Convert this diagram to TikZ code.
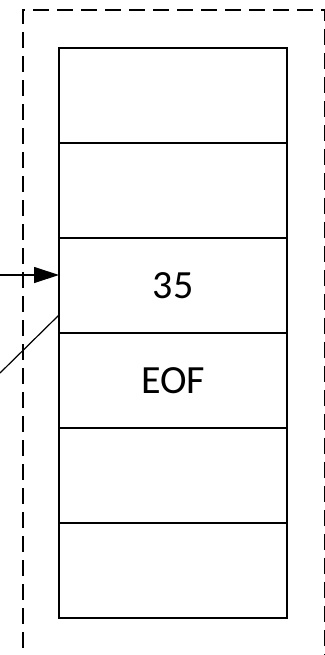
\documentclass[tikz,border=0pt]{standalone}
\usepackage{fontspec}
\setmainfont{Carlito}
\usetikzlibrary{arrows.meta,positioning}

\tikzset{
  cell/.style={draw,line width=1.5pt,minimum width=228pt,minimum height=95pt,
    inner sep=0pt,outer sep=0pt,font=\fontsize{40}{48}\selectfont},
  frame/.style={dash pattern=on 16pt off 8pt,dash phase=2pt,line width=2.2pt},
  link/.style={line width=1.2pt}
}

\begin{document}
\begin{tikzpicture}[x=1pt,y=-1pt]
  \useasboundingbox (0,0) rectangle (324,655);
  % surrounding dashed box, open at the bottom
  \draw[frame] (23,670) -- (23,10) -- (325.5,10) -- (325.5,670);
  % stack of cells
  \node[cell] (c1) at (173,95.5) {};
  \node[cell,below=0pt of c1] (c2) {};
  \node[cell,below=0pt of c2] (c3) {35};
  \node[cell,below=0pt of c3] (c4) {EOF};
  \node[cell,below=0pt of c4] (c5) {};
  \node[cell,below=0pt of c5] (c6) {};
  % incoming pointers
  \coordinate (src) at (0,275);
  \coordinate (tail) at (0,373);
  \draw[link,-{Triangle[length=25pt,width=16pt]}] (src) -- (src -| c3.west);
  \draw[link] (tail) -- ([yshift=18pt]c3.south west);
\end{tikzpicture}
\end{document}
